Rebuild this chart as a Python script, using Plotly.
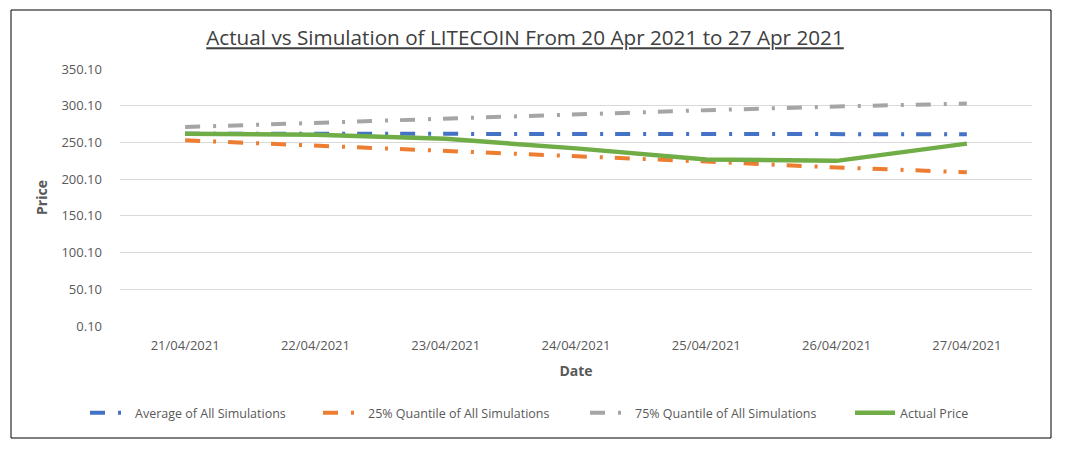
import plotly.graph_objects as go

dates = ["21/04/2021", "22/04/2021", "23/04/2021", "24/04/2021",
         "25/04/2021", "26/04/2021", "27/04/2021"]
avg_sim = [262.0, 262.0, 262.0, 261.5, 261.5, 261.5, 261.3]
q25_sim = [253.0, 246.0, 239.0, 231.0, 224.0, 216.0, 209.5]
q75_sim = [271.0, 277.0, 283.0, 288.0, 294.0, 299.0, 303.0]
actual = [262.0, 260.5, 255.0, 242.0, 227.0, 225.0, 248.5]

y_ticks = [0.1, 50.1, 100.1, 150.1, 200.1, 250.1, 300.1, 350.1]
y_tick_text = ["%.2f" % v for v in y_ticks]

title_text = "Actual vs Simulation of LITECOIN From 20 Apr 2021 to 27 Apr 2021"

W, H = 1071, 454
L, R, T, B = 120, 1032, 69, 326
pw, ph = R - L, B - T


def px(x):
    return (x - L) / pw


def py(y):
    return (B - y) / ph


dashpat = "15px,13px,3px,12px"
font_fam = "Open Sans, Liberation Sans, sans-serif"
txt_col = "#595959"

fig = go.Figure()
fig.add_trace(go.Scatter(x=dates, y=avg_sim, mode="lines", name="Average of All Simulations",
                         legendwidth=178,
                         line=dict(color="#4472C4", width=4, dash=dashpat)))
fig.add_trace(go.Scatter(x=dates, y=q25_sim, mode="lines", name="25% Quantile of All Simulations",
                         legendwidth=212,
                         line=dict(color="#ED7D31", width=4, dash=dashpat)))
fig.add_trace(go.Scatter(x=dates, y=q75_sim, mode="lines", name="75% Quantile of All Simulations",
                         legendwidth=210,
                         line=dict(color="#A5A5A5", width=4, dash=dashpat)))
fig.add_trace(go.Scatter(x=dates, y=actual, mode="lines", name="Actual Price",
                         line=dict(color="#70AD47", width=4.5)))

fig.update_layout(
    width=W, height=H,
    margin=dict(l=L, r=W - R, t=T, b=H - B, autoexpand=False),
    paper_bgcolor="white", plot_bgcolor="white",
    font=dict(family=font_fam, color=txt_col, size=13),
    title=dict(text="<u>" + title_text + "</u>", x=px(525), xref="paper", xanchor="center",
               y=1 - 38 / H, yanchor="middle",
               font=dict(family=font_fam, size=20.7, color="#404040")),
    xaxis=dict(type="category", range=[-0.5, 6.5], showgrid=False, showline=False, zeroline=False,
               ticks="", ticklabelstandoff=10, tickfont=dict(size=13, color=txt_col),
               title=dict(text="<b>Date</b>", font=dict(size=14, color=txt_col), standoff=13)),
    yaxis=dict(range=[0.09, 350.11], tickvals=y_ticks, ticktext=y_tick_text,
               showgrid=True, gridcolor="#D9D9D9", gridwidth=1, zeroline=False, showline=False,
               ticks="", ticklabelstandoff=17, tickfont=dict(size=13, color=txt_col),
               title=dict(text="<b>Price</b>", font=dict(size=14, color=txt_col), standoff=10)),
    legend=dict(orientation="h", x=px(85), xanchor="left", y=py(413), yanchor="middle",
                font=dict(size=12.5, color=txt_col), itemwidth=40, bgcolor="rgba(0,0,0,0)"),
    showlegend=True,
    shapes=[dict(type="rect", xref="paper", yref="paper",
                 x0=px(11), x1=px(1051), y0=py(438), y1=py(10),
                 line=dict(color="black", width=1), fillcolor="rgba(0,0,0,0)", layer="below")],
)

fig.write_html("out.html")
